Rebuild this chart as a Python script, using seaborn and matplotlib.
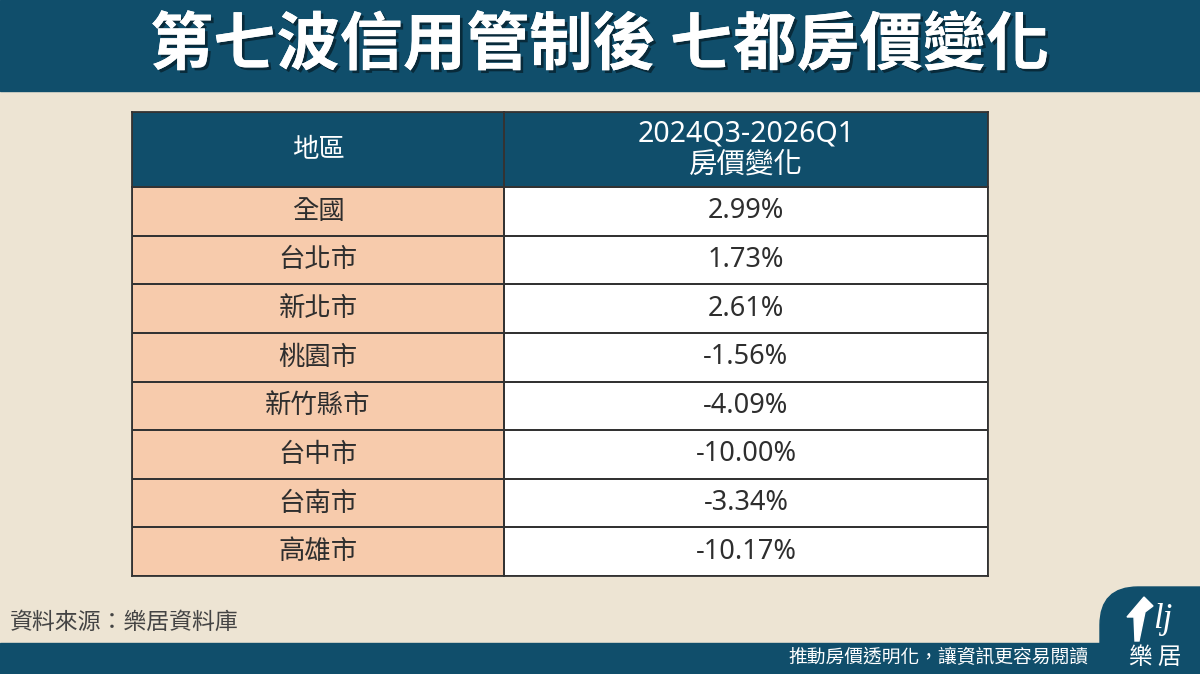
import numpy as np
import matplotlib
matplotlib.use("Agg")
import matplotlib.pyplot as plt
import matplotlib.patheffects as pe
from matplotlib.colors import ListedColormap
from matplotlib.patches import Rectangle, FancyBboxPatch
import seaborn as sns

# data
regions = ["全國", "台北市", "新北市", "桃園市", "新竹縣市", "台中市", "台南市", "高雄市"]
changes = [2.99, 1.73, 2.61, -1.56, -4.09, -10.00, -3.34, -10.17]
col_titles = ["地區", "2024Q3-2026Q1\n房價變化"]
title = "第七波信用管制後 七都房價變化"
source = "資料來源：樂居資料庫"
slogan = "推動房價透明化，讓資訊更容易閱讀"

NAVY = "#104e6b"
BEIGE = "#ede4d3"
PEACH = "#f7cbac"
INK = "#2e2e2e"
CJK = ["Noto Sans CJK TC", "DejaVu Sans"]
MIX = ["Noto Sans", "Noto Sans CJK TC"]

sns.set_theme(style="white")
plt.rcParams["font.family"] = CJK

W, H = 1200, 674
fig = plt.figure(figsize=(12, 6.74), dpi=100, facecolor=BEIGE)

# background layer in pixel coordinates
bg = fig.add_axes([0, 0, 1, 1])
bg.set_xlim(0, W)
bg.set_ylim(H, 0)
bg.axis("off")
bg.add_patch(Rectangle((0, 0), W, 91, color=NAVY))
bg.add_patch(Rectangle((0, 643), W, 40, color=NAVY))
bg.add_patch(FancyBboxPatch((1100, 587), 160, 120,
                            boxstyle="round,pad=0,rounding_size=38", color=NAVY))

bg.text(600, 46, title, color="white", fontsize=45.5, fontweight="bold",
        ha="center", va="center",
        path_effects=[pe.withSimplePatchShadow(offset=(2, -2), shadow_rgbFace="black", alpha=0.45),
                      pe.Normal()])
bg.text(10, 622, source, color="#444444", fontsize=16.5, fontweight="medium",
        ha="left", va="center")
bg.text(1088, 658, slogan, color="white", fontsize=13.5, fontweight="medium",
        ha="right", va="center")
bg.text(1155, 657, "樂 居", color="white", fontsize=17, ha="center", va="center")
# logo: small house + script
bg.add_patch(plt.Polygon([[1127, 617], [1144, 597], [1153, 606], [1145, 612],
                          [1139, 641], [1135, 641], [1134, 617]],
                         closed=True, color="white"))
bg.text(1163, 619, "lj", color="white", fontsize=25, style="italic",
        family=["Liberation Serif"], ha="center", va="center")


def px_rect(x0, y0, x1, y1):
    return [x0 / W, 1 - y1 / H, (x1 - x0) / W, (y1 - y0) / H]


def cell_block(rect, labels, face, text_color, size, family, weight="normal"):
    ax = fig.add_axes(rect)
    grid = np.zeros((len(labels), 1))
    sns.heatmap(grid, ax=ax, cmap=ListedColormap([face]), cbar=False,
                annot=np.array(labels, dtype=object).reshape(-1, 1), fmt="",
                annot_kws=dict(color=text_color, fontsize=size, family=family,
                               fontweight=weight, linespacing=1.1),
                linewidths=1.3, linecolor="#333333",
                xticklabels=False, yticklabels=False)
    for s in ax.spines.values():
        s.set_visible(True)
        s.set_color("#333333")
        s.set_linewidth(1.3)
    return ax


x0, xm, x1 = 132, 504, 988
yt, yh, yb = 112, 187, 576

cell_block(px_rect(x0, yt, xm, yh), [col_titles[0]], NAVY, "white", 19, CJK, "medium")
cell_block(px_rect(xm, yt, x1, yh), [col_titles[1]], NAVY, "white", 20.5, MIX)
cell_block(px_rect(x0, yh, xm, yb), regions, PEACH, INK, 19, CJK, "medium")
cell_block(px_rect(xm, yh, x1, yb), [f"{v:.2f}%" for v in changes], "white", INK, 19.5, MIX)

fig.savefig("out.png", dpi=100, facecolor=BEIGE)
